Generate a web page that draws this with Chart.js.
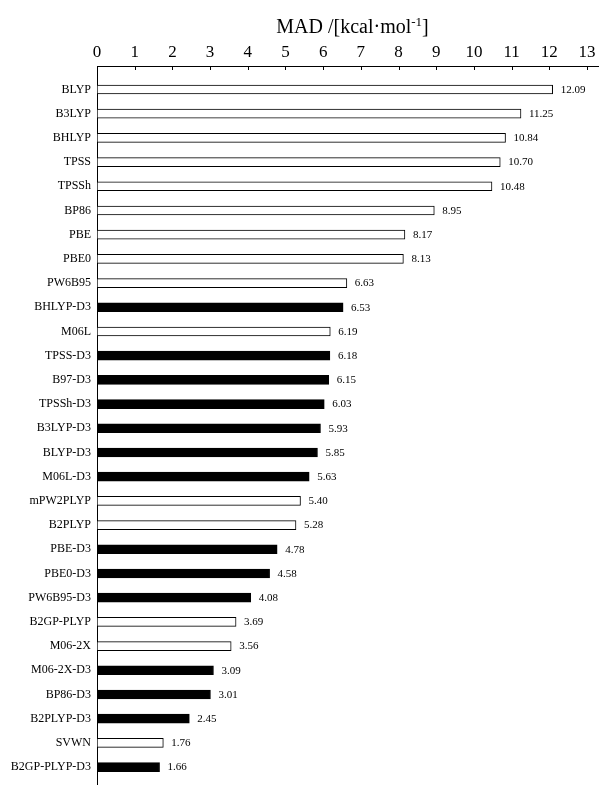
<!DOCTYPE html>
<html>
<head>
<meta charset="utf-8">
<script src="https://cdn.jsdelivr.net/npm/chart.js@4"></script>
<style>
  html, body { margin: 0; padding: 0; background: #fff; }
  #wrap { width: 599px; height: 785px; }
</style>
</head>
<body>
<div id="wrap"><canvas id="chart" width="599" height="785"></canvas></div>
<script>
// Functionals, top to bottom
const methods = [
  'BLYP', 'B3LYP', 'BHLYP', 'TPSS', 'TPSSh', 'BP86', 'PBE', 'PBE0', 'PW6B95',
  'BHLYP-D3', 'M06L', 'TPSS-D3', 'B97-D3', 'TPSSh-D3', 'B3LYP-D3', 'BLYP-D3',
  'M06L-D3', 'mPW2PLYP', 'B2PLYP', 'PBE-D3', 'PBE0-D3', 'PW6B95-D3', 'B2GP-PLYP',
  'M06-2X', 'M06-2X-D3', 'BP86-D3', 'B2PLYP-D3', 'SVWN', 'B2GP-PLYP-D3'
];
// Mean absolute deviation, kcal/mol
const madValues = [
  12.09, 11.25, 10.84, 10.70, 10.48, 8.95, 8.17, 8.13, 6.63,
  6.53, 6.19, 6.18, 6.15, 6.03, 5.93, 5.85,
  5.63, 5.40, 5.28, 4.78, 4.58, 4.08, 3.69,
  3.56, 3.09, 3.01, 2.45, 1.76, 1.66
];
// Dispersion-corrected functionals are drawn filled
const withD3 = methods.map(m => m.endsWith('-D3'));
const xTicks = [0, 1, 2, 3, 4, 5, 6, 7, 8, 9, 10, 11, 12, 13];

const serif = '"Liberation Serif", "Times New Roman", serif';

// Axis title with a superscript exponent
const titlePlugin = {
  id: 'madTitle',
  afterDraw(chart) {
    const ctx = chart.ctx;
    const main = 'MAD /[kcal\u00B7mol';
    const sup = '-1';
    const tail = ']';
    ctx.save();
    ctx.fillStyle = '#000';
    ctx.textBaseline = 'alphabetic';
    ctx.font = '20px ' + serif;
    const wMain = ctx.measureText(main).width;
    const wTail = ctx.measureText(tail).width;
    ctx.font = '13px ' + serif;
    const wSup = ctx.measureText(sup).width;
    const total = wMain + wSup + wTail;
    const cx = 352.5;
    let x = cx - total / 2;
    const y = 33;
    ctx.textAlign = 'left';
    ctx.font = '20px ' + serif;
    ctx.fillText(main, x, y);
    x += wMain;
    ctx.font = '13px ' + serif;
    ctx.fillText(sup, x, y - 7);
    x += wSup;
    ctx.font = '20px ' + serif;
    ctx.fillText(tail, x, y);
    ctx.restore();
  }
};

// Short inward tick marks below the top axis line
const innerTicks = {
  id: 'innerTicks',
  afterDraw(chart) {
    const ctx = chart.ctx;
    const xs = chart.scales.x;
    const top = chart.chartArea.top;
    ctx.save();
    ctx.strokeStyle = '#000';
    ctx.lineWidth = 1;
    ctx.beginPath();
    xTicks.forEach(v => {
      const px = Math.round(xs.getPixelForValue(v)) + 0.5;
      ctx.moveTo(px, top);
      ctx.lineTo(px, top + 4);
    });
    ctx.stroke();
    ctx.restore();
  }
};

// Numeric value printed to the right of every bar
const valueLabels = {
  id: 'valueLabels',
  afterDatasetsDraw(chart) {
    const ctx = chart.ctx;
    const meta = chart.getDatasetMeta(0);
    ctx.save();
    ctx.fillStyle = '#000';
    ctx.font = '11px ' + serif;
    ctx.textAlign = 'left';
    ctx.textBaseline = 'middle';
    meta.data.forEach((bar, i) => {
      ctx.fillText(madValues[i].toFixed(2), bar.x + 8, bar.y + 0.5);
    });
    ctx.restore();
  }
};

new Chart(document.getElementById('chart'), {
  type: 'bar',
  data: {
    datasets: [{
      data: madValues.map((v, i) => ({ x: v, y: i })),
      backgroundColor: withD3.map(d => d ? '#000' : '#fff'),
      borderColor: '#000',
      borderWidth: 1,
      borderSkipped: false,
      barThickness: 9
    }]
  },
  options: {
    indexAxis: 'y',
    responsive: false,
    animation: false,
    layout: { padding: { top: 42, left: 0, right: 0, bottom: 0 } },
    plugins: {
      legend: { display: false },
      tooltip: { enabled: false }
    },
    scales: {
      x: {
        type: 'linear',
        position: 'top',
        min: 0,
        max: 13.32,
        afterBuildTicks(scale) { scale.ticks = xTicks.map(v => ({ value: v })); },
        afterFit(scale) {
          scale.height = 24;
          scale.paddingLeft = 0;
          scale.paddingRight = 0;
        },
        grid: { display: false, drawTicks: false },
        border: { display: true, color: '#000', width: 1 },
        ticks: {
          color: '#000',
          font: { family: serif, size: 17 },
          padding: 3,
          maxRotation: 0,
          autoSkip: false
        }
      },
      y: {
        type: 'linear',
        reverse: true,
        offset: false,
        min: -0.97,
        max: 28.74,
        afterBuildTicks(scale) { scale.ticks = methods.map((_, i) => ({ value: i })); },
        afterFit(scale) {
          scale.width = 97;
          scale.paddingTop = 0;
          scale.paddingBottom = 0;
        },
        grid: { display: false, drawTicks: false, offset: false },
        border: { display: true, color: '#000', width: 1 },
        ticks: {
          color: '#000',
          font: { family: serif, size: 12 },
          padding: 6,
          autoSkip: false,
          callback: v => methods[v]
        }
      }
    }
  },
  plugins: [titlePlugin, innerTicks, valueLabels]
});
</script>
</body>
</html>
